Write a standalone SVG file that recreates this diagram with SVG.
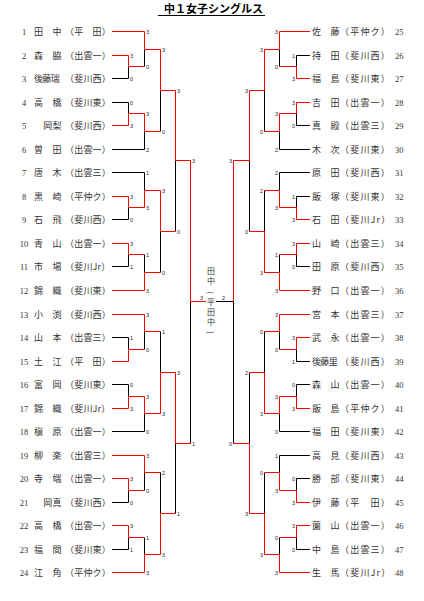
<svg xmlns="http://www.w3.org/2000/svg" width="424" height="601" viewBox="0 0 424 601">
<style>
.num{font-family:"Liberation Serif",serif;font-size:8.5px;fill:#333}
.nm{font-family:"Noto Sans CJK JP",sans-serif;font-size:9px;fill:#333;letter-spacing:0.2px}
.n3{letter-spacing:-0.65px}
.scr{letter-spacing:1.2px}
.s{font-family:"Liberation Sans",sans-serif;font-size:5.5px;fill:#223}
.sl{text-anchor:start}
.sr{text-anchor:end}
.r{stroke:#ff0000;stroke-width:1;fill:none}
.k{stroke:#000;stroke-width:1;fill:none}
.ttl{font-family:"Noto Sans CJK JP",sans-serif;font-size:11px;font-weight:bold;fill:#000}
.ch{font-family:"Noto Sans CJK JP",sans-serif;font-size:8px;fill:#333;text-anchor:middle}
</style>
<rect width="424" height="601" fill="#fff"/>
<g id="title">
<text class="ttl" x="164" y="13">中１女子シングルス</text>
<line x1="158" y1="15.5" x2="265" y2="15.5" stroke="#000" stroke-width="1"/>
</g>
<g id="left-players">
<g id="p1" transform="translate(0,31.5)"><text class="num" x="24" y="3.2" text-anchor="middle">1</text><text class="nm" x="34" y="3.4">田　中</text><text class="nm" x="65" y="3.4">（平　田）</text></g>
<g id="p2" transform="translate(0,55.5)"><text class="num" x="24" y="3.2" text-anchor="middle">2</text><text class="nm" x="34" y="3.4">森　脇</text><text class="nm" x="65" y="3.4">（出雲一）</text></g>
<g id="p3" transform="translate(0,78.5)"><text class="num" x="24" y="3.2" text-anchor="middle">3</text><text class="nm n3" x="34" y="3.4">後藤瑞</text><text class="nm" x="65" y="3.4">（斐川西）</text></g>
<g id="p4" transform="translate(0,102.5)"><text class="num" x="24" y="3.2" text-anchor="middle">4</text><text class="nm" x="34" y="3.4">高　橋</text><text class="nm" x="65" y="3.4">（斐川東）</text></g>
<g id="p5" transform="translate(0,125.5)"><text class="num" x="24" y="3.2" text-anchor="middle">5</text><text class="nm" x="34" y="3.4">　岡梨</text><text class="nm" x="65" y="3.4">（斐川西）</text></g>
<g id="p6" transform="translate(0,149.5)"><text class="num" x="24" y="3.2" text-anchor="middle">6</text><text class="nm" x="34" y="3.4">曽　田</text><text class="nm" x="65" y="3.4">（出雲一）</text></g>
<g id="p7" transform="translate(0,172.5)"><text class="num" x="24" y="3.2" text-anchor="middle">7</text><text class="nm" x="34" y="3.4">唐　木</text><text class="nm" x="65" y="3.4">（出雲三）</text></g>
<g id="p8" transform="translate(0,196.5)"><text class="num" x="24" y="3.2" text-anchor="middle">8</text><text class="nm" x="34" y="3.4">黒　崎</text><text class="nm" x="65" y="3.4">（平仲ク）</text></g>
<g id="p9" transform="translate(0,219.5)"><text class="num" x="24" y="3.2" text-anchor="middle">9</text><text class="nm" x="34" y="3.4">石　飛</text><text class="nm" x="65" y="3.4">（斐川西）</text></g>
<g id="p10" transform="translate(0,243.5)"><text class="num" x="24" y="3.2" text-anchor="middle">10</text><text class="nm" x="34" y="3.4">青　山</text><text class="nm" x="65" y="3.4">（出雲一）</text></g>
<g id="p11" transform="translate(0,266.5)"><text class="num" x="24" y="3.2" text-anchor="middle">11</text><text class="nm" x="34" y="3.4">市　場</text><text class="nm" x="65" y="3.4">（斐川Jr）</text></g>
<g id="p12" transform="translate(0,290.5)"><text class="num" x="24" y="3.2" text-anchor="middle">12</text><text class="nm" x="34" y="3.4">錦　織</text><text class="nm" x="65" y="3.4">（斐川東）</text></g>
<g id="p13" transform="translate(0,314.5)"><text class="num" x="24" y="3.2" text-anchor="middle">13</text><text class="nm" x="34" y="3.4">小　渕</text><text class="nm" x="65" y="3.4">（斐川西）</text></g>
<g id="p14" transform="translate(0,337.5)"><text class="num" x="24" y="3.2" text-anchor="middle">14</text><text class="nm" x="34" y="3.4">山　本</text><text class="nm" x="65" y="3.4">（出雲三）</text></g>
<g id="p15" transform="translate(0,361.5)"><text class="num" x="24" y="3.2" text-anchor="middle">15</text><text class="nm" x="34" y="3.4">土　江</text><text class="nm" x="65" y="3.4">（平　田）</text></g>
<g id="p16" transform="translate(0,384.5)"><text class="num" x="24" y="3.2" text-anchor="middle">16</text><text class="nm" x="34" y="3.4">富　岡</text><text class="nm" x="65" y="3.4">（斐川東）</text></g>
<g id="p17" transform="translate(0,408.5)"><text class="num" x="24" y="3.2" text-anchor="middle">17</text><text class="nm" x="34" y="3.4">錦　織</text><text class="nm" x="65" y="3.4">（斐川Jr）</text></g>
<g id="p18" transform="translate(0,431.5)"><text class="num" x="24" y="3.2" text-anchor="middle">18</text><text class="nm" x="34" y="3.4">槇　原</text><text class="nm" x="65" y="3.4">（出雲一）</text></g>
<g id="p19" transform="translate(0,455.5)"><text class="num" x="24" y="3.2" text-anchor="middle">19</text><text class="nm" x="34" y="3.4">柳　楽</text><text class="nm" x="65" y="3.4">（出雲三）</text></g>
<g id="p20" transform="translate(0,478.5)"><text class="num" x="24" y="3.2" text-anchor="middle">20</text><text class="nm" x="34" y="3.4">寺　端</text><text class="nm" x="65" y="3.4">（出雲一）</text></g>
<g id="p21" transform="translate(0,502.5)"><text class="num" x="24" y="3.2" text-anchor="middle">21</text><text class="nm" x="34" y="3.4">　岡真</text><text class="nm" x="65" y="3.4">（斐川西）</text></g>
<g id="p22" transform="translate(0,525.5)"><text class="num" x="24" y="3.2" text-anchor="middle">22</text><text class="nm" x="34" y="3.4">高　橋</text><text class="nm" x="65" y="3.4">（出雲一）</text></g>
<g id="p23" transform="translate(0,549.5)"><text class="num" x="24" y="3.2" text-anchor="middle">23</text><text class="nm" x="34" y="3.4">福　間</text><text class="nm" x="65" y="3.4">（斐川東）</text></g>
<g id="p24" transform="translate(0,572.5)"><text class="num" x="24" y="3.2" text-anchor="middle">24</text><text class="nm" x="34" y="3.4">江　角</text><text class="nm" x="65" y="3.4">（平仲ク）</text></g>
</g>
<g id="right-players">
<g id="p25" transform="translate(0,31.5)"><text class="nm" x="312" y="3.4">佐　藤</text><text class="nm scr" x="340" y="3.4">（平仲ク）</text><text class="num" x="395" y="3.2">25</text></g>
<g id="p26" transform="translate(0,55.5)"><text class="nm" x="312" y="3.4">持　田</text><text class="nm scr" x="340" y="3.4">（斐川西）</text><text class="num" x="395" y="3.2">26</text></g>
<g id="p27" transform="translate(0,78.5)"><text class="nm" x="312" y="3.4">福　島</text><text class="nm scr" x="340" y="3.4">（斐川東）</text><text class="num" x="395" y="3.2">27</text></g>
<g id="p28" transform="translate(0,102.5)"><text class="nm" x="312" y="3.4">吉　田</text><text class="nm scr" x="340" y="3.4">（出雲一）</text><text class="num" x="395" y="3.2">28</text></g>
<g id="p29" transform="translate(0,125.5)"><text class="nm" x="312" y="3.4">真　殿</text><text class="nm scr" x="340" y="3.4">（出雲三）</text><text class="num" x="395" y="3.2">29</text></g>
<g id="p30" transform="translate(0,149.5)"><text class="nm" x="312" y="3.4">木　次</text><text class="nm scr" x="340" y="3.4">（斐川東）</text><text class="num" x="395" y="3.2">30</text></g>
<g id="p31" transform="translate(0,172.5)"><text class="nm" x="312" y="3.4">原　田</text><text class="nm scr" x="340" y="3.4">（斐川西）</text><text class="num" x="395" y="3.2">31</text></g>
<g id="p32" transform="translate(0,196.5)"><text class="nm" x="312" y="3.4">飯　塚</text><text class="nm scr" x="340" y="3.4">（斐川東）</text><text class="num" x="395" y="3.2">32</text></g>
<g id="p33" transform="translate(0,219.5)"><text class="nm" x="312" y="3.4">石　田</text><text class="nm scr" x="340" y="3.4">（斐川Jr）</text><text class="num" x="395" y="3.2">33</text></g>
<g id="p34" transform="translate(0,243.5)"><text class="nm" x="312" y="3.4">山　崎</text><text class="nm scr" x="340" y="3.4">（出雲三）</text><text class="num" x="395" y="3.2">34</text></g>
<g id="p35" transform="translate(0,266.5)"><text class="nm" x="312" y="3.4">田　原</text><text class="nm scr" x="340" y="3.4">（斐川西）</text><text class="num" x="395" y="3.2">35</text></g>
<g id="p36" transform="translate(0,290.5)"><text class="nm" x="312" y="3.4">野　口</text><text class="nm scr" x="340" y="3.4">（出雲一）</text><text class="num" x="395" y="3.2">36</text></g>
<g id="p37" transform="translate(0,314.5)"><text class="nm" x="312" y="3.4">宮　本</text><text class="nm scr" x="340" y="3.4">（出雲三）</text><text class="num" x="395" y="3.2">37</text></g>
<g id="p38" transform="translate(0,337.5)"><text class="nm" x="312" y="3.4">武　永</text><text class="nm scr" x="340" y="3.4">（出雲一）</text><text class="num" x="395" y="3.2">38</text></g>
<g id="p39" transform="translate(0,361.5)"><text class="nm n3" x="312" y="3.4">後藤里</text><text class="nm scr" x="340" y="3.4">（斐川西）</text><text class="num" x="395" y="3.2">39</text></g>
<g id="p40" transform="translate(0,384.5)"><text class="nm" x="312" y="3.4">森　山</text><text class="nm scr" x="340" y="3.4">（出雲一）</text><text class="num" x="395" y="3.2">40</text></g>
<g id="p41" transform="translate(0,408.5)"><text class="nm" x="312" y="3.4">飯　島</text><text class="nm scr" x="340" y="3.4">（平仲ク）</text><text class="num" x="395" y="3.2">41</text></g>
<g id="p42" transform="translate(0,431.5)"><text class="nm" x="312" y="3.4">福　田</text><text class="nm scr" x="340" y="3.4">（斐川東）</text><text class="num" x="395" y="3.2">42</text></g>
<g id="p43" transform="translate(0,455.5)"><text class="nm" x="312" y="3.4">高　見</text><text class="nm scr" x="340" y="3.4">（斐川西）</text><text class="num" x="395" y="3.2">43</text></g>
<g id="p44" transform="translate(0,478.5)"><text class="nm" x="312" y="3.4">勝　部</text><text class="nm scr" x="340" y="3.4">（斐川東）</text><text class="num" x="395" y="3.2">44</text></g>
<g id="p45" transform="translate(0,502.5)"><text class="nm" x="312" y="3.4">伊　藤</text><text class="nm scr" x="340" y="3.4">（平　田）</text><text class="num" x="395" y="3.2">45</text></g>
<g id="p46" transform="translate(0,525.5)"><text class="nm" x="312" y="3.4">薗　山</text><text class="nm scr" x="340" y="3.4">（出雲一）</text><text class="num" x="395" y="3.2">46</text></g>
<g id="p47" transform="translate(0,549.5)"><text class="nm" x="312" y="3.4">中　島</text><text class="nm scr" x="340" y="3.4">（出雲三）</text><text class="num" x="395" y="3.2">47</text></g>
<g id="p48" transform="translate(0,572.5)"><text class="nm" x="312" y="3.4">生　馬</text><text class="nm scr" x="340" y="3.4">（斐川Jr）</text><text class="num" x="395" y="3.2">48</text></g>
</g>
<g id="champion">
<text class="ch" x="211" y="274">田</text>
<text class="ch" x="211" y="284">中</text>
<text class="ch" x="211" y="292.5" transform="rotate(90 211 292.5)" dominant-baseline="central">(</text>
<text class="ch" x="211" y="305">平</text>
<text class="ch" x="211" y="315">田</text>
<text class="ch" x="211" y="325">中</text>
<text class="ch" x="211" y="332.5" transform="rotate(90 211 332.5)" dominant-baseline="central">)</text>
</g>
<g id="connectors">
<path class="k" d="M112 78.5H128.5V66.5M144.5 49.5V66.5M112 102.5H128.5V113.5M112 149.5H144.5V131.5M160.5 90.5V131.5M112 172.5H144.5V190.5M112 219.5H128.5V207.5M112 266.5H128.5V254.5M144.5 254.5V272.5M160.5 231.5V272.5M175.5 160.5V231.5M112 337.5H128.5V349.5M144.5 331.5V349.5M112 384.5H128.5V396.5M112 431.5H144.5V413.5M160.5 331.5V372.5M112 502.5H128.5V490.5M144.5 472.5V490.5M112 549.5H128.5V537.5M144.5 537.5V554.5M160.5 472.5V513.5M175.5 443.5V513.5M190.5 301.5V443.5"/>
<path class="k" d="M310 55.5H296.5V66.5M279.5 49.5V66.5M310 125.5H296.5V113.5M310 149.5H279.5V131.5M264.5 90.5V131.5M310 172.5H279.5V190.5M310 196.5H296.5V207.5M310 266.5H296.5V254.5M279.5 254.5V272.5M264.5 190.5V231.5M249.5 160.5V231.5M233.5 301.5V443.5M216 301.5H233.5M310 361.5H296.5V349.5M279.5 331.5V349.5M310 384.5H296.5V396.5M310 431.5H279.5V413.5M264.5 331.5V372.5M310 455.5H279.5V472.5M310 478.5H296.5V490.5M310 549.5H296.5V537.5M279.5 537.5V554.5M264.5 472.5V513.5M249.5 372.5V443.5"/>
<path class="r" d="M112 31.5H144.5M112 55.5H128.5M128.5 55.5V66.5H144.5M144.5 31.5V49.5H160.5M112 125.5H128.5M128.5 125.5V113.5H144.5M144.5 113.5V131.5H160.5M160.5 49.5V90.5H175.5M112 196.5H128.5M128.5 196.5V207.5H144.5M144.5 207.5V190.5H160.5M112 243.5H128.5M128.5 243.5V254.5H144.5M112 290.5H144.5M144.5 290.5V272.5H160.5M160.5 190.5V231.5H175.5M175.5 90.5V160.5H190.5M112 314.5H144.5M112 361.5H128.5M128.5 361.5V349.5H144.5M144.5 314.5V331.5H160.5M112 408.5H128.5M128.5 408.5V396.5H144.5M144.5 396.5V413.5H160.5M160.5 413.5V372.5H175.5M112 455.5H144.5M112 478.5H128.5M128.5 478.5V490.5H144.5M144.5 455.5V472.5H160.5M112 525.5H128.5M128.5 525.5V537.5H144.5M112 572.5H144.5M144.5 572.5V554.5H160.5M160.5 554.5V513.5H175.5M175.5 372.5V443.5H190.5M190.5 160.5V301.5H206"/>
<path class="r" d="M310 31.5H279.5M310 78.5H296.5M296.5 78.5V66.5H279.5M279.5 31.5V49.5H264.5M310 102.5H296.5M296.5 102.5V113.5H279.5M279.5 113.5V131.5H264.5M264.5 49.5V90.5H249.5M310 219.5H296.5M296.5 219.5V207.5H279.5M279.5 207.5V190.5H264.5M310 243.5H296.5M296.5 243.5V254.5H279.5M310 290.5H279.5M279.5 290.5V272.5H264.5M264.5 272.5V231.5H249.5M249.5 90.5V160.5H233.5M233.5 160.5V301.5M310 314.5H279.5M310 337.5H296.5M296.5 337.5V349.5H279.5M279.5 314.5V331.5H264.5M310 408.5H296.5M296.5 408.5V396.5H279.5M279.5 396.5V413.5H264.5M264.5 413.5V372.5H249.5M310 502.5H296.5M296.5 502.5V490.5H279.5M279.5 490.5V472.5H264.5M310 525.5H296.5M296.5 525.5V537.5H279.5M310 572.5H279.5M279.5 572.5V554.5H264.5M264.5 554.5V513.5H249.5M249.5 513.5V443.5H233.5"/>
</g>
<g id="scores" class="s">
<g class="sl">
<text x="130" y="57.5">3</text><text x="130" y="80.5">0</text><text x="130" y="104.5">0</text><text x="130" y="127.5">3</text>
<text x="130" y="198.5">3</text><text x="130" y="221.5">0</text><text x="130" y="245.5">3</text><text x="130" y="268.5">1</text>
<text x="130" y="339.5">1</text><text x="130" y="386.5">0</text><text x="130" y="410.5">3</text>
<text x="130" y="480.5">3</text><text x="130" y="504.5">0</text><text x="130" y="527.5">3</text><text x="130" y="551.5">1</text>
<text x="146" y="33.5">3</text><text x="146" y="68.5">0</text><text x="146" y="115.5">3</text><text x="146" y="151.5">2</text>
<text x="146" y="174.5">1</text><text x="146" y="209.5">3</text><text x="146" y="256.5">1</text><text x="146" y="292.5">3</text>
<text x="146" y="316.5">3</text><text x="146" y="351.5">0</text><text x="146" y="398.5">3</text><text x="146" y="433.5">0</text>
<text x="146" y="457.5">3</text><text x="146" y="492.5">0</text><text x="146" y="539.5">1</text><text x="146" y="574.5">3</text>
<text x="162" y="51.5">3</text><text x="162" y="133.5">0</text><text x="162" y="192.5">3</text><text x="162" y="274.5">0</text>
<text x="162" y="333.5">1</text><text x="162" y="415.5">3</text><text x="162" y="474.5">2</text><text x="162" y="556.5">3</text>
<text x="177" y="92.5">3</text><text x="177" y="233.5">0</text><text x="177" y="374.5">3</text><text x="177" y="515.5">1</text>
<text x="192" y="162.5">3</text><text x="192" y="445.5">1</text>
<text x="200" y="299.5">3</text>
</g>
<g class="sr">
<text x="295" y="57.5">1</text><text x="295" y="80.5">3</text><text x="295" y="104.5">3</text><text x="295" y="127.5">0</text>
<text x="295" y="198.5">1</text><text x="295" y="221.5">3</text><text x="295" y="245.5">3</text><text x="295" y="268.5">0</text>
<text x="295" y="339.5">3</text><text x="295" y="363.5">1</text><text x="295" y="386.5">0</text><text x="295" y="410.5">3</text>
<text x="295" y="480.5">0</text><text x="295" y="504.5">3</text><text x="295" y="527.5">3</text><text x="295" y="551.5">0</text>
<text x="278" y="33.5">3</text><text x="278" y="68.5">0</text><text x="278" y="115.5">3</text><text x="278" y="151.5">2</text>
<text x="278" y="174.5">2</text><text x="278" y="209.5">3</text><text x="278" y="256.5">1</text><text x="278" y="292.5">3</text>
<text x="278" y="316.5">3</text><text x="278" y="351.5">0</text><text x="278" y="398.5">3</text><text x="278" y="433.5">0</text>
<text x="278" y="457.5">1</text><text x="278" y="492.5">3</text><text x="278" y="539.5">0</text><text x="278" y="574.5">3</text>
<text x="263" y="51.5">3</text><text x="263" y="133.5">0</text><text x="263" y="192.5">2</text><text x="263" y="274.5">3</text>
<text x="263" y="333.5">0</text><text x="263" y="415.5">3</text><text x="263" y="474.5">0</text><text x="263" y="556.5">3</text>
<text x="248" y="92.5">3</text><text x="248" y="233.5">0</text><text x="248" y="374.5">2</text><text x="248" y="515.5">3</text>
<text x="232" y="162.5">3</text><text x="232" y="445.5">0</text>
<text x="225" y="299.5">2</text>
</g>
</g>
</svg>
